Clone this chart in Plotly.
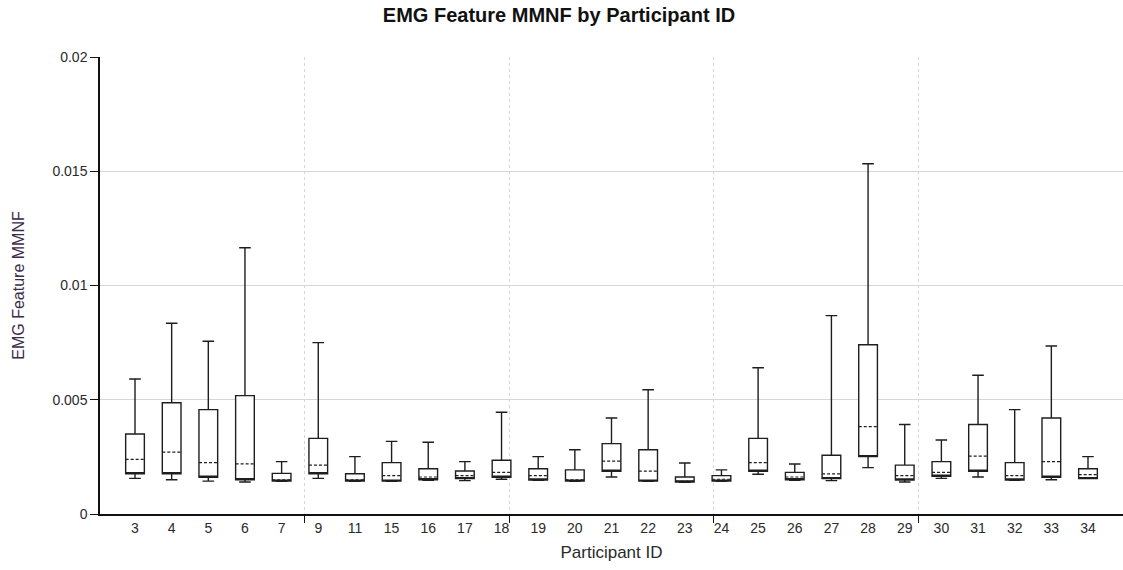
import plotly.graph_objects as go
import numpy as np

participants = [3, 4, 5, 6, 7, 9, 11, 15, 16, 17, 18, 19, 20, 21, 22, 23, 24, 25, 26, 27, 28, 29, 30, 31, 32, 33, 34]

upper = [0.00591, 0.00835, 0.00756, 0.01165, 0.00229, 0.00750, 0.00251, 0.00318, 0.00314, 0.00229,
         0.00445, 0.00251, 0.00281, 0.00420, 0.00544, 0.00223, 0.00193, 0.00640, 0.00219, 0.00868,
         0.01533, 0.00392, 0.00324, 0.00607, 0.00457, 0.00735, 0.00251]
q3 = [0.00350, 0.00487, 0.00457, 0.00518, 0.00178, 0.00331, 0.00176, 0.00225, 0.00198, 0.00188,
      0.00235, 0.00198, 0.00193, 0.00308, 0.00281, 0.00162, 0.00168, 0.00331, 0.00182, 0.00257,
      0.00741, 0.00214, 0.00229, 0.00392, 0.00225, 0.00420, 0.00198]
median = [0.00239, 0.00271, 0.00225, 0.00219, 0.00149, 0.00214, 0.00150, 0.00168, 0.00162, 0.00168,
          0.00182, 0.00168, 0.00150, 0.00231, 0.00188, 0.00143, 0.00152, 0.00225, 0.00162, 0.00176,
          0.00382, 0.00168, 0.00182, 0.00253, 0.00168, 0.00229, 0.00172]
q1 = [0.00176, 0.00176, 0.00161, 0.00150, 0.00144, 0.00176, 0.00144, 0.00144, 0.00150, 0.00155,
      0.00161, 0.00149, 0.00144, 0.00187, 0.00144, 0.00140, 0.00144, 0.00187, 0.00150, 0.00155,
      0.00251, 0.00149, 0.00165, 0.00187, 0.00149, 0.00161, 0.00155]
lower = [0.00156, 0.00150, 0.00144, 0.00140, 0.00143, 0.00156, 0.00143, 0.00143, 0.00147, 0.00146,
         0.00152, 0.00148, 0.00143, 0.00162, 0.00143, 0.00139, 0.00143, 0.00174, 0.00148, 0.00146,
         0.00203, 0.00140, 0.00156, 0.00162, 0.00148, 0.00150, 0.00155]

tick_labels = [str(p) for p in participants]
pos = np.arange(len(participants))
box_w = 0.51

fig = go.Figure()
fig.add_trace(go.Box(
    x=pos, q1=q1, median=q1, q3=q3, lowerfence=lower, upperfence=upper,
    width=box_w, whiskerwidth=0.62,
    line=dict(color="#1e1e1e", width=1.4), fillcolor="white",
    boxpoints=False, showlegend=False, hoverinfo="skip",
))

# dashed median lines
mx, my = [], []
for i, m in zip(pos, median):
    mx += [i - box_w / 2, i + box_w / 2, None]
    my += [m, m, None]
fig.add_trace(go.Scatter(x=mx, y=my, mode="lines",
                         line=dict(color="#1e1e1e", width=1.2, dash="3px,2px"),
                         showlegend=False, hoverinfo="skip"))

# helper trace for secondary (grid) x axis
fig.add_trace(go.Scatter(x=[0, 5], y=[None, None], xaxis="x2", showlegend=False, hoverinfo="skip"))

n = len(participants)
pad = 0.955
font_family = "Liberation Sans, Arial, sans-serif"
W, H = 1123, 570
fig.update_layout(
    width=W, height=H,
    margin=dict(l=100, r=0, t=57, b=56),
    paper_bgcolor="white", plot_bgcolor="white",
    font=dict(family=font_family, size=14, color="#2a2a2a"),
    title=dict(text="<b>EMG Feature MMNF by Participant ID</b>", x=559 / W, xanchor="center",
               y=1 - 15 / H, yanchor="middle", font=dict(size=20, color="#111111")),
    xaxis=dict(range=[-pad, n - 1 + pad], tickmode="array", tickvals=pos, ticktext=tick_labels,
               ticks="", showline=True, linecolor="#111111", linewidth=1.5,
               showgrid=False, zeroline=False,
               title=dict(text="Participant ID", standoff=12, font=dict(size=17, color="#2a2a2a"))),
    xaxis2=dict(overlaying="x", anchor="y", side="bottom", range=[0, 5], tickmode="array",
                tickvals=[1, 2, 3, 4], showticklabels=False, ticks="outside", ticklen=8,
                tickcolor="#111111", showgrid=True, gridcolor="#d6d6d6", griddash="3px,3px",
                gridwidth=1, showline=False, zeroline=False),
    yaxis=dict(range=[0, 0.02], dtick=0.005, ticks="outside", ticklen=8, tickcolor="#111111",
               showline=True, linecolor="#111111", linewidth=1.5,
               showgrid=True, gridcolor="#d6d6d6", gridwidth=1, zeroline=False,
               title=dict(text="EMG Feature MMNF", standoff=24, font=dict(size=16, color="#3b2a4a"))),
)

fig.write_html("out.html", config={"displayModeBar": False},
               post_script="document.body.style.margin='0';")
